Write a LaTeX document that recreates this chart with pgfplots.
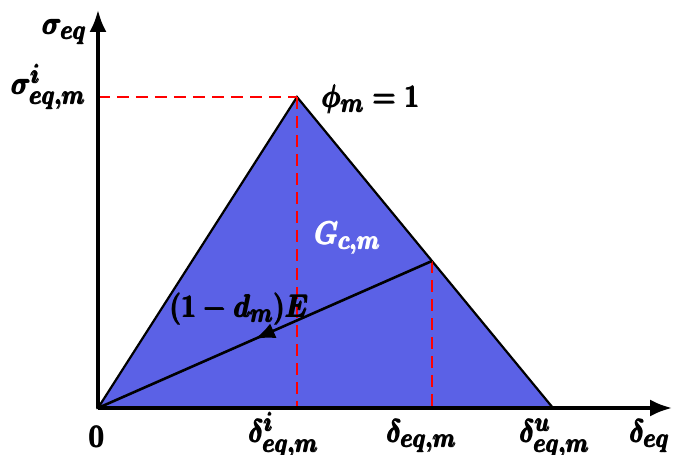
\documentclass[border=0pt]{standalone}
\usepackage{amsmath}
\usepackage{pgfplots}
\pgfplotsset{compat=1.18}
\usetikzlibrary{arrows.meta,decorations.markings}
\definecolor{fillblue}{RGB}{91,97,230}
\newcommand{\B}[1]{{\Huge\boldmath$\pmb{#1}$}}
\begin{document}
\begin{tikzpicture}[lab/.style={inner sep=0pt, xscale=1.07, yscale=1.28}]
\path[use as bounding box] (-98pt,-47pt) rectangle (577pt,408pt);
\begin{axis}[
  scale only axis, width=574pt, height=398pt,
  xmin=0, xmax=574, ymin=0, ymax=398,
  axis lines=none, clip=false,
  anchor=south west, at={(0pt,0pt)},
]
% triangle
\addplot[fill=fillblue, draw=black, line width=2.2pt, line join=miter] coordinates {(0,0) (199,311) (455,0)} -- cycle;
% red dashed guides
\addplot[red, line width=2.8pt, dash pattern=on 12pt off 7pt] coordinates {(0,311) (199,311)};
\addplot[red, line width=2.8pt, dash pattern=on 12pt off 7pt] coordinates {(199,311) (199,0)};
\addplot[red, line width=2.8pt, dash pattern=on 12pt off 7pt] coordinates {(334,147) (334,0)};
% unloading line
\addplot[black, line width=2.6pt, postaction={decorate},
  decoration={markings, mark=at position 0.47 with {\arrowreversed{Latex[length=20pt,width=16pt]}}}]
  coordinates {(0,0) (334,147)};
% axes
\addplot[black, line width=3.2pt, -{Latex[length=22pt,width=17pt]}] coordinates {(0,0) (574,0)};
\addplot[black, line width=3.2pt, -{Latex[length=22pt,width=17pt]}] coordinates {(0,0) (0,398)};
% labels
\node[lab, anchor=base east] at (axis cs:-11,373) {\B{\sigma_{eq}}};
\node[lab, anchor=base east] at (axis cs:-12,313) {\B{\sigma^{i}_{eq,m}}};
\node[lab, anchor=base west] at (axis cs:224,300) {\B{\phi_{m}=1}};
\node[lab, anchor=base west, text=white] at (axis cs:217,163) {\B{G_{c,m}}};
\node[lab, anchor=base west] at (axis cs:72,90) {\B{(1-d_{m})E}};
\node[lab, anchor=base] at (axis cs:-1,-40) {\B{0}};
\node[lab, anchor=base] at (axis cs:186,-35) {\B{\delta^{i}_{eq,m}}};
\node[lab, anchor=base] at (axis cs:324,-35) {\B{\delta_{eq,m}}};
\node[lab, anchor=base] at (axis cs:457,-35) {\B{\delta^{u}_{eq,m}}};
\node[lab, anchor=base] at (axis cs:552,-35) {\B{\delta_{eq}}};
\end{axis}
\end{tikzpicture}
\end{document}
